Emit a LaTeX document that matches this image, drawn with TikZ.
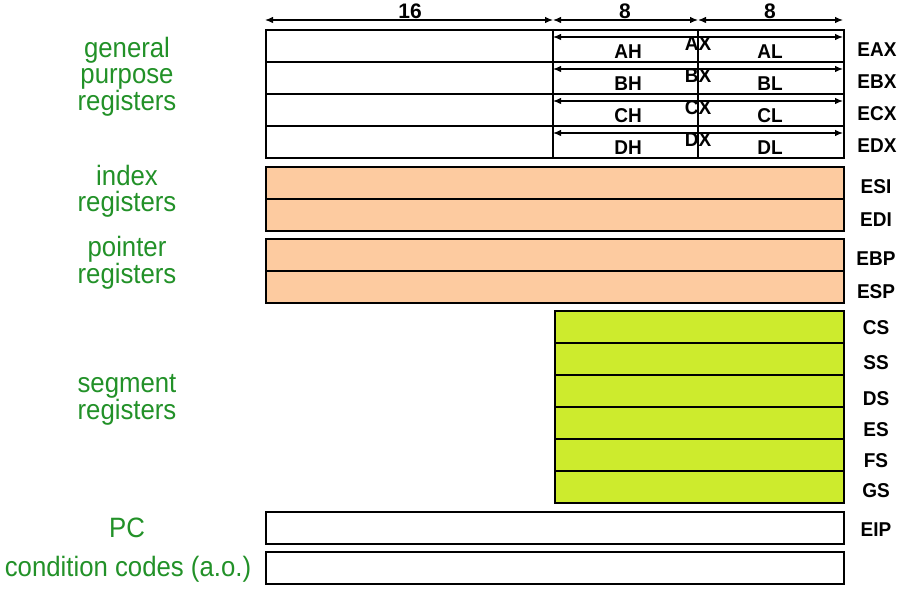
\documentclass[tikz,border=0pt]{standalone}
\usepackage{fontspec}
\setmainfont{Liberation Sans}
\usetikzlibrary{arrows.meta}
\definecolor{grouptext}{RGB}{34,145,40}
\definecolor{ptrfill}{RGB}{253,203,160}
\definecolor{segfill}{RGB}{205,235,45}
\begin{document}
\begin{tikzpicture}[x=1pt,y=-1pt,
  reg/.style={draw=black, line width=1.6pt, rectangle, anchor=north west,
    inner sep=0pt, minimum height=32pt, minimum width=578pt},
  segreg/.style={reg, fill=segfill, minimum width=289pt},
  ptrreg/.style={reg, fill=ptrfill},
  divider/.style={draw=black, line width=1.4pt},
  dimline/.style={draw=black, line width=1.2pt, {Latex[length=8pt,width=6.5pt]}-{Latex[length=8pt,width=6.5pt]}},
  group/.style={text=grouptext, font=\fontsize{28}{26}\selectfont, align=center,
    inner sep=0pt, xscale=0.92},
  regname/.style={font=\fontsize{20}{22}\selectfont\bfseries, inner sep=0pt, xscale=0.95},
  part/.style={font=\fontsize{20}{22}\selectfont\bfseries, inner sep=0pt, xscale=0.95},
  bitcount/.style={font=\fontsize{21}{23}\selectfont\bfseries, inner sep=0pt}
]
\useasboundingbox (0,0) rectangle (901,593);

% bit widths along the top
\coordinate (w0) at (265,20);
\coordinate (w16) at (553,20);
\coordinate (w24) at (698,20);
\coordinate (w32) at (843,20);
\draw[dimline] (w0) -- (w16);
\draw[dimline] (w16) -- (w24);
\draw[dimline] (w24) -- (w32);
\node[bitcount] (n16) at (410,11) {16};
\node[bitcount] (n8a) at (625,11) {8};
\node[bitcount] (n8b) at (770,11) {8};

% general purpose registers: 32-bit rows
\node[reg] (gpa) at (265,29) {};
\node[reg] (gpb) at (265,61) {};
\node[reg] (gpc) at (265,93) {};
\node[reg] (gpd) at (265,125) {};

% 16-bit halves with their byte names
\foreach \ltr/\yy in {A/29, B/61, C/93, D/125} {
  \coordinate (x16l\ltr) at (553,\yy+8);
  \coordinate (x16r\ltr) at (843,\yy+8);
  \draw[dimline] (x16l\ltr) -- (x16r\ltr);
  \node[part] (\ltr H) at (628,\yy+23) {\ltr H};
  \node[part] (\ltr X) at (698,\yy+15) {\ltr X};
  \node[part] (\ltr L) at (770,\yy+23) {\ltr L};
  \node[regname] (E\ltr X) at (877,\yy+21) {E\ltr X};
}
\coordinate (d16t) at (553,29);
\coordinate (d16b) at (553,157);
\coordinate (d24t) at (698,29);
\coordinate (d24b) at (698,157);
\draw[divider] (d16t) -- (d16b);
\draw[divider] (d24t) -- (d24b);

% index and pointer registers
\node[ptrreg] (esi) at (265,166) {};
\node[ptrreg] (edi) at (265,198) {};
\node[ptrreg] (ebp) at (265,238) {};
\node[ptrreg] (esp) at (265,270) {};
\node[regname] (lesi) at (876,187) {ESI};
\node[regname] (ledi) at (876,220) {EDI};
\node[regname] (lebp) at (876,259) {EBP};
\node[regname] (lesp) at (876,292) {ESP};

% segment registers
\foreach \idx/\yy/\ly/\name in {1/310/328/CS, 2/342/363/SS, 3/374/399/DS,
                                4/406/430/ES, 5/438/461/FS, 6/470/491/GS} {
  \node[segreg] (seg\idx) at (554,\yy) {};
  \node[regname] (\name) at (876,\ly) {\name};
}

% instruction pointer and flags
\node[reg] (eip) at (265,511) {};
\node[reg] (flags) at (265,551) {};
\node[regname] (leip) at (876,530) {EIP};

% group captions
\node[group] (ggp) at (127,77) {general\\purpose\\registers};
\node[group] (gidx) at (127,191) {index\\registers};
\node[group] (gptr) at (127,263) {pointer\\registers};
\node[group] (gseg) at (127,400) {segment\\registers};
\node[group] (gpc) at (127,528) {PC};
\node[group] (gcc) at (128,569) {condition codes (a.o.)};
\end{tikzpicture}
\end{document}
